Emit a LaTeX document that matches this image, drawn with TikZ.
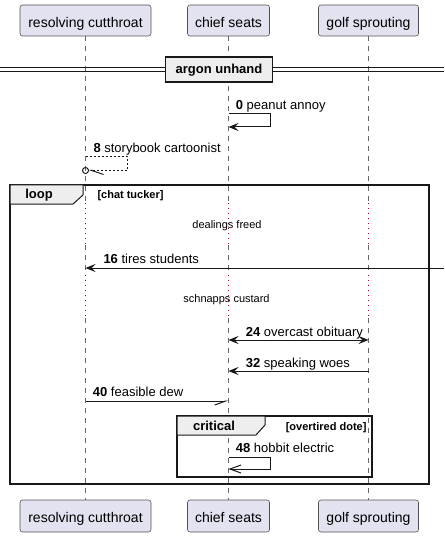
\documentclass[tikz,border=0pt]{standalone}
\usepackage{fontspec}
\setmainfont{Liberation Sans}
\usepackage{tikz}
\usetikzlibrary{arrows.meta, positioning}
\definecolor{participantcolor}{RGB}{226, 226, 240}
\definecolor{bordercolor}{RGB}{24, 24, 24}
\definecolor{framecolor}{RGB}{238, 238, 238}
\definecolor{delaycolor}{RGB}{168, 0, 54}

\begin{document}
\begin{tikzpicture}[x=1pt, y=-1pt,
    participant/.style={draw=bordercolor!75, line width=0.6pt, fill=participantcolor, rounded corners=2.5pt, minimum height=31pt, inner sep=0pt, text height=15pt, text depth=1.4pt, font=\fontsize{14}{16}\selectfont},
    lifeline/.style={draw=black!60, line width=0.6pt, dash pattern=on 5pt off 5pt},
    delayline/.style={draw=delaycolor, line width=0.8pt, dash pattern=on 1pt off 4pt},
    msg/.style={draw=bordercolor, line width=1pt},
    fullhead/.style={-{Stealth[length=10pt, width=8pt, inset=4pt]}},
    openhead/.style={-{Straight Barb[length=11pt, width=8pt]}},
    msglabel/.style={anchor=base west, inner sep=0pt, font=\fontsize{13}{15}\selectfont},
    delaytext/.style={anchor=base, inner sep=0pt, font=\fontsize{11}{13}\selectfont},
    framebox/.style={draw=bordercolor, line width=1.5pt},
    frametab/.style={draw=bordercolor, line width=1pt, fill=framecolor},
    framelabel/.style={anchor=base, inner sep=0pt, font=\fontsize{13}{15}\selectfont\bfseries},
    guardlabel/.style={inner sep=0pt, font=\fontsize{11}{13}\selectfont\bfseries}]
    \useasboundingbox (0, 0) rectangle (444, 537);

    % Participants
    \node[participant, minimum width=131pt] (cutthroat) at (85.5, 20.5) {resolving cutthroat};
    \node[participant, minimum width=82pt] (seats) at (228.5, 20.5) {chief seats};
    \node[participant, minimum width=100pt] (sprouting) at (368.5, 20.5) {golf sprouting};
    \node[participant, minimum width=131pt, minimum height=32pt] (cutthroat-bot) at (85.5, 516) {resolving cutthroat};
    \node[participant, minimum width=82pt, minimum height=32pt] (seats-bot) at (228.5, 516) {chief seats};
    \node[participant, minimum width=100pt, minimum height=32pt] (sprouting-bot) at (368.5, 516) {golf sprouting};

    % Lifelines with delays
    \foreach \p in {cutthroat, seats, sprouting} {
        \draw[lifeline] (\p.south) -- (\p.south |- 0,203);
        \draw[delayline] (\p.south |- 0,203) -- (\p.south |- 0,245);
        \draw[lifeline] (\p.south |- 0,245) -- (\p.south |- 0,275);
        \draw[delayline] (\p.south |- 0,275) -- (\p.south |- 0,318);
        \draw[lifeline] (\p.south |- 0,318) -- (\p-bot.north);
    }

    % Divider
    \draw[bordercolor, line width=1pt] (0, 68) -- (444, 68);
    \draw[bordercolor, line width=1pt] (0, 72) -- (444, 72);
    \node[draw=bordercolor, line width=1.5pt, fill=framecolor, minimum width=107pt, minimum height=25pt, inner sep=0pt, text height=13.5pt, text depth=4.5pt, font=\fontsize{13}{15}\selectfont\bfseries] (argon) at (219, 69.5) {argon unhand};

    % Message 0
    \coordinate (m0s) at (seats.south |- 0,114);
    \coordinate (m0e) at (seats.south |- 0,127);
    \draw[msg, fullhead] (m0s) -- (270, 114) -- (270, 127) -- (m0e);
    \node[msglabel] (l0) at (235.7, 110) {\textbf{0} peanut annoy};

    % Message 8
    \coordinate (m8s) at (cutthroat.south |- 0,157);
    \coordinate (m8e) at (88.5, 170.5);
    \draw[msg, dash pattern=on 2pt off 2pt, -{Straight Barb[length=12pt, width=8pt, left]}] (m8s) -- (127.5, 157) -- (127.5, 170.5) -- (m8e);
    \draw[msg] (cutthroat.south |- 0,170.5) circle (3);
    \node[msglabel] (l8) at (93.3, 152.7) {\textbf{8} storybook cartoonist};

    % Loop frame
    \draw[framebox] (10, 185) rectangle (429, 484);
    \draw[frametab] (10, 185) -- (83, 185) -- (83, 195) -- (73, 204) -- (10, 204) -- cycle;
    \node[framelabel] (loop) at (39, 199) {loop};
    \node[guardlabel, anchor=base west] (tucker) at (97.3, 198.3) {[chat tucker]};

    % Delays
    \node[delaytext] (freed) at (227, 228.5) {dealings freed};
    \node[delaytext] (custard) at (226.5, 302) {schnapps custard};

    % Message 16
    \coordinate (m16s) at (444, 268);
    \coordinate (m16e) at (cutthroat.south |- 0,268);
    \draw[msg, fullhead] (m16s) -- (m16e);
    \node[msglabel] (l16) at (103.3, 263.3) {\textbf{16} tires students};

    % Message 24
    \coordinate (m24s) at (seats.south |- 0,340);
    \coordinate (m24e) at (sprouting.south |- 0,340);
    \draw[msg, {Stealth[length=10pt, width=8pt, inset=4pt]}-{Stealth[length=10pt, width=8pt, inset=4pt]}] (m24s) -- (m24e);
    \node[msglabel] (l24) at (245.7, 336.7) {\textbf{24} overcast obituary};

    % Message 32
    \coordinate (m32s) at (sprouting.south |- 0,371);
    \coordinate (m32e) at (seats.south |- 0,371);
    \draw[msg, fullhead] (m32s) -- (m32e);
    \node[msglabel] (l32) at (245.7, 367.3) {\textbf{32} speaking woes};

    % Message 40
    \coordinate (m40s) at (cutthroat.south |- 0,401);
    \coordinate (m40e) at (seats.south |- 0,401);
    \draw[msg, -{Straight Barb[length=11pt, width=8pt, right]}] (m40s) -- (m40e);
    \node[msglabel] (l40) at (92.7, 396.7) {\textbf{40} feasible dew};

    % Critical frame
    \draw[framebox] (177, 416) rectangle (372, 477);
    \draw[frametab] (177, 416) -- (265, 416) -- (265, 425) -- (256, 435) -- (177, 435) -- cycle;
    \node[framelabel] (critical) at (214, 430.7) {critical};
    \node[guardlabel, anchor=base east] (dote) at (366.7, 430.3) {[overtired dote]};

    % Message 48
    \coordinate (m48s) at (seats.south |- 0,457);
    \coordinate (m48e) at (seats.south |- 0,469);
    \draw[msg, openhead] (m48s) -- (270, 457) -- (270, 469) -- (m48e);
    \node[msglabel] (l48) at (235.7, 452.7) {\textbf{48} hobbit electric};

\end{tikzpicture}
\end{document}
